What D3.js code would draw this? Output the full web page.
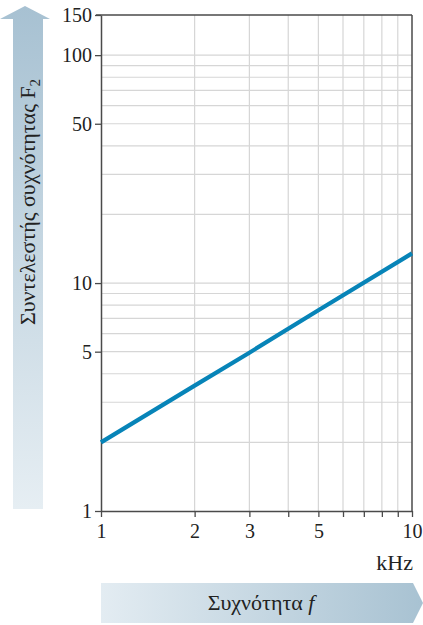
<!DOCTYPE html>
<html><head><meta charset="utf-8">
<script src="https://cdn.jsdelivr.net/npm/d3@7"></script>
<style>body{margin:0;background:#fff}svg{display:block}</style>
</head><body>
<svg id="c" width="423" height="625"></svg>
<script>
const freqKHz = [1, 2, 3, 5, 10];
const factorF2 = [2.0, 3.55, 4.95, 7.6, 13.5];
const xTickLabels = [1, 2, 3, 5, 10];
const yTickLabels = [1, 5, 10, 50, 100, 150];
const xMinor = [1,2,3,4,5,6,7,8,9,10];
const yGrid = [2,3,4,5,6,7,8,9,10,20,30,40,50,60,70,80,90,100];
const xTitle = "Συχνότητα ";
const xTitleItalic = "f";
const yTitle = "Συντελεστής συχνότητας F";
const yTitleSub = "2";
const unitLabel = "kHz";

const FONT = 'Liberation Serif, Tinos, serif';
const svg = d3.select("#c");
const L = 101, R = 412, T = 15, B = 511;
const x = d3.scaleLog().domain([1, 10]).range([L, R]);
const y = d3.scaleLog().domain([1, 150]).range([B, T]);

const defs = svg.append("defs");
const gv = defs.append("linearGradient").attr("id","gv").attr("x1",0).attr("y1",1).attr("x2",0).attr("y2",0);
gv.append("stop").attr("offset","0%").attr("stop-color","#e6eef3");
gv.append("stop").attr("offset","100%").attr("stop-color","#a7c1d2");
const gh = defs.append("linearGradient").attr("id","gh").attr("x1",0).attr("y1",0).attr("x2",1).attr("y2",0);
gh.append("stop").attr("offset","0%").attr("stop-color","#e3ecf2");
gh.append("stop").attr("offset","100%").attr("stop-color","#a8c2d2");

// vertical arrow
svg.append("path").attr("fill","url(#gv)")
  .attr("d","M13,509 L13,19 L0,19 L25,6 L50,19 L43,19 L43,509 Z");
const yt = svg.append("text").attr("transform","translate(35,202) rotate(-90)")
  .attr("text-anchor","middle").style("font-family",FONT).style("font-size","22px").style("fill","#222");
yt.append("tspan").text(yTitle);
yt.append("tspan").style("font-size","15px").attr("dy",5).text(yTitleSub);

// horizontal arrow
svg.append("path").attr("fill","url(#gh)")
  .attr("d","M101,583 L413,583 L423,603 L413,623 L101,623 Z");
const xt = svg.append("text").attr("x",261).attr("y",610).attr("text-anchor","middle")
  .style("font-family",FONT).style("font-size","22px").style("fill","#222");
xt.append("tspan").text(xTitle);
xt.append("tspan").style("font-style","italic").text(xTitleItalic);

// grid
svg.append("g").selectAll("line").data(xMinor.filter(d=>d>1&&d<10)).join("line")
  .attr("x1",d=>x(d)).attr("x2",d=>x(d)).attr("y1",T).attr("y2",B)
  .attr("stroke","#d6d6d6").attr("stroke-width",1.2);
svg.append("g").selectAll("line").data(yGrid).join("line")
  .attr("x1",L).attr("x2",R).attr("y1",d=>y(d)).attr("y2",d=>y(d))
  .attr("stroke","#d6d6d6").attr("stroke-width",1.2);

// axes
const xa = svg.append("g").attr("transform",`translate(0,${B})`)
  .call(d3.axisBottom(x).tickValues(xMinor).tickSize(6).tickSizeOuter(0)
    .tickFormat(d=>xTickLabels.includes(d)?d:""));
const ya = svg.append("g").attr("transform",`translate(${L},0)`)
  .call(d3.axisLeft(y).tickValues(yTickLabels).tickSize(6).tickSizeOuter(0).tickFormat(d=>d));
[xa, ya].forEach(g=>{
  g.attr("font-family",null).attr("font-size",null);
  g.select(".domain").attr("stroke","#4a4a4a").attr("stroke-width",1.5);
  g.selectAll(".tick line").attr("stroke","#4a4a4a").attr("stroke-width",1.3);
  g.selectAll("text").style("font-family",FONT).style("font-size","20px").style("fill","#222");
});
xa.selectAll("text").attr("dy","0.9em");
ya.selectAll("text").attr("x",-9);
// top and right frame
svg.append("line").attr("x1",L-5).attr("x2",R).attr("y1",y(150)).attr("y2",y(150))
  .attr("stroke","#4a4a4a").attr("stroke-width",1.5);
svg.append("line").attr("x1",R).attr("x2",R).attr("y1",T).attr("y2",B)
  .attr("stroke","#4a4a4a").attr("stroke-width",1.5);

svg.append("text").attr("x",413).attr("y",570).attr("text-anchor","end")
  .style("font-family",FONT).style("font-size","22px").style("fill","#222").text(unitLabel);

// data line
const data = freqKHz.map((f,i)=>[f,factorF2[i]]);
svg.append("path").datum(data)
  .attr("fill","none").attr("stroke","#0784b8").attr("stroke-width",4.2)
  .attr("d", d3.line().x(d=>x(d[0])).y(d=>y(d[1])));
</script>
</body></html>
